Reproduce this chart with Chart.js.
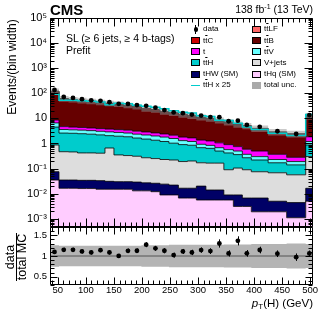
<!DOCTYPE html>
<html>
<head>
<meta charset="utf-8">
<title>ttH SL pT(H)</title>
<script src="https://cdn.jsdelivr.net/npm/chart.js@4.4.1/dist/chart.umd.min.js"></script>
<style>
  html, body { margin: 0; padding: 0; background: #fff; }
  #plot { position: relative; width: 332px; height: 325px; overflow: hidden;
          font-family: "Liberation Sans", Arial, Helvetica, sans-serif; color: #000; }
  #plot canvas { position: absolute; left: 0; top: 0; }
  .txt { position: absolute; white-space: nowrap; line-height: 1; }
  .rot { position: absolute; white-space: nowrap; line-height: 1; transform: translate(-50%, -50%) rotate(-90deg); }
  .frac { position: absolute; left: 16px; top: 256.5px; width: 50px; text-align: center;
          font-size: 12.5px; line-height: 10.5px; transform: translate(-50%, -50%) rotate(-90deg); }
  .frac .num { border-bottom: 1px solid #000; padding-bottom: 0; margin: 0 1px; }
  .leg { position: absolute; font-size: 8px; line-height: 10px; height: 10px; white-space: nowrap; }
  .box { position: absolute; width: 9px; height: 7px; box-sizing: border-box; border: 1px solid #000; }
  .ob { text-decoration: overline; }
</style>
</head>
<body>
<div id="plot">
  <canvas id="mainChart" width="332" height="325"></canvas>
  <canvas id="ratioChart" width="332" height="325"></canvas>
  <div class="txt" style="left:50px;top:1.5px;font-size:15px;font-weight:bold;">CMS</div>
  <div class="txt" style="right:19px;top:4px;font-size:10.5px;">138 fb<sup style="font-size:7px;vertical-align:4px;line-height:0">-1</sup> (13 TeV)</div>
  <div class="txt" style="left:66px;top:32.5px;font-size:10.5px;">SL (≥ 6 jets, ≥ 4 b-tags)</div>
  <div class="txt" style="left:66px;top:44.6px;font-size:10.5px;">Prefit</div>
  <div id="legend"></div>
  <div class="rot" style="left:12px;top:66.5px;font-size:12px;">Events/(bin width)</div>
  <div class="frac"><div class="num">data</div><div>total MC</div></div>
  <div class="txt" style="right:19px;top:297.5px;font-size:11.5px;"><i>p</i><sub style="font-size:8px;vertical-align:-2px;line-height:0">T</sub>(H) (GeV)</div>
</div>
<script>
// binning (GeV) and axis labels
const binEdges = [36, 52, 69, 85, 101, 118, 134, 150, 167, 183, 199, 216, 232, 248,
                  265, 281, 297, 314, 330, 346, 363, 379, 395, 425, 458, 492, 505];
const xTicks = [50, 100, 150, 200, 250, 300, 350, 400, 450, 500];
const yTickVals = [1e-3, 1e-2, 1e-1, 1, 10, 1e2, 1e3, 1e4, 1e5];
const yTickLabels = ['10⁻³', '10⁻²', '10⁻¹', '1', '10', '10²', '10³', '10⁴', '10⁵'];
const ratioTickVals = [0.5, 1, 1.5];
const ratioTickLabels = ['0.5', '1', '1.5'];

// events / bin width
const dataObs = [135, 71.3, 65.5, 58.3, 52.6, 50.2, 43.9, 38, 37.7, 33.8, 31.8, 26.7, 21.4,
                 17.3, 16.1, 14.2, 13.0, 11.3, 11.2, 7.7, 8.1, 5.5, 4.6, 3.07, 2.39, 13.6];
const ttLF = [5.7, 2.9, 2.6, 2.4, 2.2, 2.0, 1.8, 1.7, 1.5, 1.3, 1.1, 1.0, 0.8, 0.7, 0.6, 0.6,
              0.5, 0.45, 0.38, 0.32, 0.26, 0.23, 0.17, 0.13, 0.11, 0.55];
const ttC = [11.4, 5.7, 5.3, 4.8, 4.4, 4.0, 3.7, 3.4, 3.0, 2.7, 2.2, 2.0, 1.7, 1.5, 1.3, 1.1,
             1.0, 0.9, 0.76, 0.63, 0.52, 0.45, 0.35, 0.25, 0.22, 1.1];
const ttB = [97.2, 48.7, 44.6, 41.0, 37.7, 34.1, 31.2, 29.3, 25.6, 22.9, 18.8, 16.9, 14.1, 12.6,
             10.8, 9.7, 8.5, 7.5, 6.4, 5.4, 4.4, 3.9, 3.0, 2.16, 1.85, 9.3];
const singleT = [2.0, 1.1, 1.0, 0.95, 0.9, 0.85, 0.85, 0.8, 0.8, 0.75, 0.7, 0.65, 0.6, 0.56, 0.5,
                 0.47, 0.44, 0.42, 0.38, 0.33, 0.25, 0.22, 0.2, 0.14, 0.09, 0.65];
const ttV = [2.1, 1.0, 0.95, 0.95, 0.9, 0.85, 0.85, 0.8, 0.75, 0.7, 0.68, 0.64, 0.6, 0.55, 0.4,
             0.35, 0.25, 0.2, 0.18, 0.15, 0.14, 0.1, 0.08, 0.06, 0.05, 0.33];
const ttH = [3.63, 2.13, 2.09, 2.03, 1.93, 1.79, 1.39, 1.6, 1.52, 1.34, 1.23, 1.1, 0.97, 0.81,
             0.71, 0.65, 0.51, 0.475, 0.335, 0.33, 0.255, 0.18, 0.145, 0.102, 0.084, 0.57];
const vJets = [0.795, 0.435, 0.425, 0.386, 0.386, 0.377, 0.629, 0.32, 0.30, 0.281, 0.243, 0.224,
               0.206, 0.198, 0.174, 0.184, 0.15, 0.151, 0.151, 0.081, 0.096, 0.083, 0.068, 0.063,
               0.052, 0.284];
const tHW = [0.040, 0.0186, 0.0186, 0.018, 0.018, 0.018, 0.016, 0.015, 0.015, 0.016, 0.014, 0.014,
             0.0151, 0.0131, 0.0098, 0.0098, 0.0144, 0.0084, 0.0084, 0.0033, 0.0058, 0.0036,
             0.0048, 0.0031, 0.0033, 0.0114];
const tHq = [0.035, 0.0164, 0.0164, 0.016, 0.016, 0.015, 0.015, 0.015, 0.015, 0.013, 0.013, 0.012,
             0.0089, 0.0089, 0.0067, 0.0067, 0.0056, 0.0056, 0.0056, 0.0056, 0.0031, 0.0031,
             0.0019, 0.0019, 0.0011, 0.005];
// ratio panel: stat. error on data/MC and relative total uncertainty
const ratioErr = [0.04, 0.05, 0.05, 0.05, 0.05, 0.05, 0.05, 0.05, 0.055, 0.055, 0.06, 0.06, 0.06,
                  0.06, 0.06, 0.065, 0.065, 0.07, 0.1, 0.075, 0.11, 0.08, 0.08, 0.08, 0.09, 0.07];
const uncRel = [0.26, 0.25, 0.25, 0.25, 0.25, 0.25, 0.25, 0.25, 0.25, 0.25, 0.26, 0.26, 0.26,
                0.27, 0.27, 0.27, 0.27, 0.27, 0.27, 0.28, 0.28, 0.28, 0.29, 0.29, 0.30, 0.29];

const FONT = '"Liberation Sans", Arial, Helvetica, sans-serif';

// stack, bottom to top
const layers = [
  { vals: tHq, color: '#ffccff' },
  { vals: tHW, color: '#000066' },
  { vals: vJets, color: '#dddddd' },
  { vals: ttH, color: '#00cccc' },
  { vals: ttV, color: '#66ffff' },
  { vals: singleT, color: '#ff00ff' },
  { vals: ttB, color: '#660000' },
  { vals: ttC, color: '#cc0000' },
  { vals: ttLF, color: '#ff6666' }
];

const centers = binEdges.slice(0, -1).map((e, i) => (e + binEdges[i + 1]) / 2);
const steps = vals => binEdges.map((e, i) => ({ x: e, y: vals[Math.min(i, vals.length - 1)] }));

let running = dataObs.map(() => 0);
const stackSets = layers.map((l, k) => {
  running = running.map((r, i) => r + l.vals[i]);
  return {
    data: steps(running), stepped: true, borderColor: '#000', borderWidth: 0.8,
    backgroundColor: l.color, fill: k === 0 ? 'start' : '-1', pointRadius: 0
  };
});
const totalMC = running;
const ratio = dataObs.map((d, i) => d / totalMC[i]);

// legend
const legendCol1 = [
  ['data', 'data'], ['t<span class="ob">t</span>C', '#cc0000'], ['t', '#ff00ff'],
  ['t<span class="ob">t</span>H', '#00cccc'], ['tHW (SM)', '#000066'], ['t<span class="ob">t</span>H x 25', 'line']
];
const legendCol2 = [
  ['t<span class="ob">t</span>LF', '#ff6666'], ['t<span class="ob">t</span>B', '#660000'],
  ['t<span class="ob">t</span>V', '#66ffff'], ['V+jets', '#dddddd'], ['tHq (SM)', '#ffccff'], ['total unc.', 'unc']
];
let html = '';
[[legendCol1, 191], [legendCol2, 252]].forEach(([items, bx]) => {
  items.forEach(([label, kind], r) => {
    const cy = 29.3 + r * 11.2;
    if (kind === 'data') {
      html += `<div style="position:absolute;left:${bx + 2.5}px;top:${cy - 2.3}px;width:4.6px;height:4.6px;border-radius:50%;background:#000"></div>`;
      html += `<div style="position:absolute;left:${bx + 4.3}px;top:${cy - 4.5}px;width:1px;height:9px;background:#000"></div>`;
    } else if (kind === 'line') {
      html += `<div style="position:absolute;left:${bx}px;top:${cy - 0.75}px;width:9px;height:1.5px;background:#00cccc"></div>`;
    } else if (kind === 'unc') {
      html += `<div class="box" style="left:${bx}px;top:${cy - 3.5}px;background:#aaaaaa;border:none"></div>`;
    } else {
      html += `<div class="box" style="left:${bx}px;top:${cy - 3.5}px;background:${kind}"></div>`;
    }
    html += `<div class="leg" style="left:${bx + 12}px;top:${cy - 5}px">${label}</div>`;
  });
});
document.getElementById('legend').innerHTML = html;

// black frame with inward ticks on all four sides
function frameTicks(yTicks, len) {
  return {
    id: 'frameTicks',
    afterDraw(chart) {
      const { ctx, chartArea: a } = chart;
      const xs = chart.scales.x, ys = chart.scales.y;
      const L = Math.round(a.left) + 0.5, R = Math.round(a.right) - 0.5;
      const T = Math.round(a.top) + 0.5, B = Math.round(a.bottom) - 0.5;
      ctx.save();
      ctx.strokeStyle = '#000';
      ctx.lineWidth = 1;
      ctx.beginPath();
      ctx.rect(L, T, R - L, B - T);
      for (let v = 40; v <= 500; v += 10) {
        const px = Math.round(xs.getPixelForValue(v)) + 0.5;
        const l = v % 50 === 0 ? len.xMajor : len.xMinor;
        ctx.moveTo(px, B); ctx.lineTo(px, B - l);
        ctx.moveTo(px, T); ctx.lineTo(px, T + l);
      }
      yTicks.forEach(([v, major]) => {
        const py = Math.round(ys.getPixelForValue(v)) + 0.5;
        const l = major ? len.yMajor : len.yMinor;
        ctx.moveTo(L, py); ctx.lineTo(L + l, py);
        ctx.moveTo(R, py); ctx.lineTo(R - l, py);
      });
      ctx.stroke();
      ctx.restore();
    }
  };
}

function errorBars(vals, errs) {
  return {
    id: 'errorBars',
    afterDatasetsDraw(chart) {
      const meta = chart.getDatasetMeta(0);
      const ys = chart.scales.y, ctx = chart.ctx;
      ctx.save();
      ctx.strokeStyle = '#000';
      ctx.lineWidth = 1;
      ctx.beginPath();
      meta.data.forEach((pt, i) => {
        const x = Math.round(pt.x) + 0.5;
        ctx.moveTo(x, ys.getPixelForValue(vals[i] - errs[i]));
        ctx.lineTo(x, ys.getPixelForValue(vals[i] + errs[i]));
      });
      ctx.stroke();
      ctx.restore();
    }
  };
}

const yMin = 4.7e-4, yMax = 1e5;
const logTicks = [];
for (let d = -4; d <= 5; d++) {
  for (let k = 1; k <= 9; k++) {
    const v = k * Math.pow(10, d);
    if (v >= yMin && v <= yMax * 1.0001) logTicks.push([v, k === 1]);
  }
}
const ratioTicks = [];
for (let k = 3; k <= 17; k++) ratioTicks.push([k / 10, k % 5 === 0]);

const pointStyle = { showLine: false, pointRadius: 2.4, pointBorderWidth: 0, pointBackgroundColor: '#000', borderColor: '#000' };

new Chart(document.getElementById('mainChart'), {
  type: 'line',
  data: {
    datasets: [
      { data: centers.map((x, i) => ({ x, y: dataObs[i] })), ...pointStyle },
      { data: steps(ttH.map(v => v * 25)), stepped: true, borderColor: '#00cccc', borderWidth: 1.5, fill: false, pointRadius: 0 },
      { data: steps(totalMC.map((t, i) => t * (1 + uncRel[i]))), stepped: true, borderWidth: 0, pointRadius: 0,
        fill: '+1', backgroundColor: 'rgba(150,150,150,0.5)' },
      { data: steps(totalMC.map((t, i) => t * (1 - uncRel[i]))), stepped: true, borderWidth: 0, pointRadius: 0, fill: false },
      ...stackSets
    ]
  },
  options: {
    responsive: false, animation: false, events: [],
    layout: { padding: { left: 0, right: 19, top: 18, bottom: 98 } },
    plugins: { legend: { display: false }, tooltip: { enabled: false } },
    scales: {
      x: { type: 'linear', min: 36, max: 505, display: false },
      y: {
        type: 'logarithmic', min: yMin, max: yMax,
        grid: { display: false, drawTicks: false }, border: { display: false },
        afterBuildTicks: s => { s.ticks = yTickVals.map(v => ({ value: v })); },
        afterFit: s => { s.width = 50; s.paddingTop = 0; s.paddingBottom = 0; },
        ticks: { autoSkip: false, padding: 3, color: '#000', font: { family: FONT, size: 11 },
                 callback: (v, i) => yTickLabels[i] }
      }
    }
  },
  plugins: [errorBars(dataObs, ratioErr.map((e, i) => e * totalMC[i])),
            frameTicks(logTicks, { xMajor: 8, xMinor: 4, yMajor: 8, yMinor: 4 })]
});

new Chart(document.getElementById('ratioChart'), {
  type: 'line',
  data: {
    datasets: [
      { data: centers.map((x, i) => ({ x, y: ratio[i] })), ...pointStyle },
      { data: [{ x: 36, y: 1 }, { x: 505, y: 1 }], borderColor: '#555555', borderWidth: 1, pointRadius: 0, fill: false },
      { data: steps(uncRel.map(u => 1 + u)), stepped: true, borderWidth: 0, pointRadius: 0,
        fill: '+1', backgroundColor: 'rgba(140,140,140,0.65)' },
      { data: steps(uncRel.map(u => 1 - u)), stepped: true, borderWidth: 0, pointRadius: 0, fill: false }
    ]
  },
  options: {
    responsive: false, animation: false, events: [],
    layout: { padding: { left: 0, right: 19, top: 227, bottom: 20 } },
    plugins: { legend: { display: false }, tooltip: { enabled: false } },
    scales: {
      x: {
        type: 'linear', min: 36, max: 505,
        grid: { display: false, drawTicks: false }, border: { display: false },
        afterBuildTicks: s => { s.ticks = xTicks.map(v => ({ value: v })); },
        afterFit: s => { s.height = 20; s.paddingLeft = 0; s.paddingRight = 0; },
        ticks: { autoSkip: false, maxRotation: 0, padding: 0, color: '#000', font: { family: FONT, size: 9.5 },
                 callback: v => String(v) }
      },
      y: {
        type: 'linear', min: 0.3, max: 1.7,
        grid: { display: false, drawTicks: false }, border: { display: false },
        afterBuildTicks: s => { s.ticks = ratioTickVals.map(v => ({ value: v })); },
        afterFit: s => { s.width = 50; s.paddingTop = 0; s.paddingBottom = 0; },
        ticks: { autoSkip: false, padding: 3, color: '#000', font: { family: FONT, size: 9.5 },
                 callback: (v, i) => ratioTickLabels[i] }
      }
    }
  },
  plugins: [errorBars(ratio, ratioErr),
            frameTicks(ratioTicks, { xMajor: 7, xMinor: 4, yMajor: 7, yMinor: 4 })]
});
</script>
</body>
</html>
